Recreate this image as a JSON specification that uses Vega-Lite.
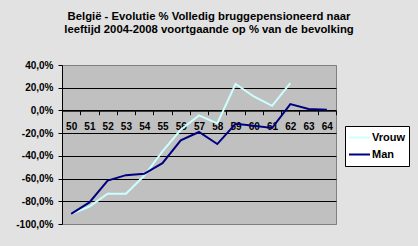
{
  "$schema": "https://vega.github.io/schema/vega-lite/v6.json",
  "autosize": {"type": "none"},
  "width": 274,
  "height": 159,
  "padding": {"left": 62, "top": 65, "right": 82, "bottom": 22},
  "background": "#e2e2e2",
  "title": {
    "text": ["België - Evolutie % Volledig bruggepensioneerd naar", "leeftijd 2004-2008 voortgaande op % van de bevolking"],
    "font": "Liberation Sans",
    "fontSize": 11.3,
    "fontWeight": "bold",
    "color": "black",
    "anchor": "middle",
    "frame": "group",
    "dx": 10,
    "offset": 25,
    "lineHeight": 12.5
  },
  "data": {
    "values": [
      {"leeftijd": "50", "geslacht": "Vrouw", "waarde": -0.913},
      {"leeftijd": "51", "geslacht": "Vrouw", "waarde": -0.846},
      {"leeftijd": "52", "geslacht": "Vrouw", "waarde": -0.734},
      {"leeftijd": "53", "geslacht": "Vrouw", "waarde": -0.734},
      {"leeftijd": "54", "geslacht": "Vrouw", "waarde": -0.575},
      {"leeftijd": "55", "geslacht": "Vrouw", "waarde": -0.36},
      {"leeftijd": "56", "geslacht": "Vrouw", "waarde": -0.17},
      {"leeftijd": "57", "geslacht": "Vrouw", "waarde": -0.044},
      {"leeftijd": "58", "geslacht": "Vrouw", "waarde": -0.115},
      {"leeftijd": "59", "geslacht": "Vrouw", "waarde": 0.233},
      {"leeftijd": "60", "geslacht": "Vrouw", "waarde": 0.123},
      {"leeftijd": "61", "geslacht": "Vrouw", "waarde": 0.041},
      {"leeftijd": "62", "geslacht": "Vrouw", "waarde": 0.241},
      {"leeftijd": "50", "geslacht": "Man", "waarde": -0.91},
      {"leeftijd": "51", "geslacht": "Man", "waarde": -0.81},
      {"leeftijd": "52", "geslacht": "Man", "waarde": -0.617},
      {"leeftijd": "53", "geslacht": "Man", "waarde": -0.57},
      {"leeftijd": "54", "geslacht": "Man", "waarde": -0.558},
      {"leeftijd": "55", "geslacht": "Man", "waarde": -0.464},
      {"leeftijd": "56", "geslacht": "Man", "waarde": -0.264},
      {"leeftijd": "57", "geslacht": "Man", "waarde": -0.19},
      {"leeftijd": "58", "geslacht": "Man", "waarde": -0.296},
      {"leeftijd": "59", "geslacht": "Man", "waarde": -0.117},
      {"leeftijd": "60", "geslacht": "Man", "waarde": -0.135},
      {"leeftijd": "61", "geslacht": "Man", "waarde": -0.155},
      {"leeftijd": "62", "geslacht": "Man", "waarde": 0.056},
      {"leeftijd": "63", "geslacht": "Man", "waarde": 0.012},
      {"leeftijd": "64", "geslacht": "Man", "waarde": 0.006}
    ]
  },
  "mark": {"type": "line", "strokeWidth": 2},
  "encoding": {
    "x": {
      "field": "leeftijd",
      "type": "ordinal",
      "bandPosition": 0.5,
      "scale": {"type": "band", "paddingInner": 0, "paddingOuter": 0},
      "axis": {
        "title": null,
        "orient": "bottom",
        "offset": -113.3,
        "labelAngle": 0,
        "tickBand": "extent",
        "domainColor": "black",
        "tickColor": "black",
        "tickSize": 4,
        "labelPadding": 7,
        "labelFont": "Liberation Sans",
        "labelFontSize": 10,
        "labelFontWeight": "bold",
        "labelColor": "black",
        "grid": false
      }
    },
    "y": {
      "field": "waarde",
      "type": "quantitative",
      "scale": {"domain": [-1, 0.4], "nice": false, "zero": false},
      "axis": {
        "title": null,
        "values": [-1, -0.8, -0.6, -0.4, -0.2, 0, 0.2, 0.4],
        "format": ".1%",
        "grid": true,
        "gridColor": {"condition": {"test": "datum.value <= -0.99 || datum.value >= 0.39", "value": "#808080"}, "value": "black"},
        "gridOpacity": 1,
        "domainColor": "black",
        "tickColor": "black",
        "tickSize": 4,
        "labelPadding": 5,
        "labelFont": "Liberation Sans",
        "labelFontSize": 10,
        "labelFontWeight": "bold",
        "labelColor": "black"
      }
    },
    "color": {
      "field": "geslacht",
      "type": "nominal",
      "sort": ["Vrouw", "Man"],
      "scale": {"domain": ["Vrouw", "Man"], "range": ["#ccffff", "#000080"]},
      "legend": {
        "title": null,
        "orient": "none",
        "legendX": 283,
        "legendY": 61,
        "symbolType": "stroke",
        "symbolSize": 441,
        "symbolStrokeWidth": 2,
        "clipHeight": 17,
        "rowPadding": 0,
        "padding": 3,
        "labelOffset": 1,
        "strokeColor": "black",
        "fillColor": "white",
        "labelFont": "Liberation Sans",
        "labelFontSize": 11,
        "labelFontWeight": "bold",
        "labelColor": "black"
      }
    }
  },
  "config": {
    "locale": {"number": {"decimal": ",", "thousands": ".", "grouping": [3], "currency": ["€", ""], "minus": "-"}},
    "view": {"fill": "#c0c0c0", "stroke": "#808080", "strokeWidth": 1},
    "axis": {"domainWidth": 1, "tickWidth": 1, "gridWidth": 1}
  }
}
